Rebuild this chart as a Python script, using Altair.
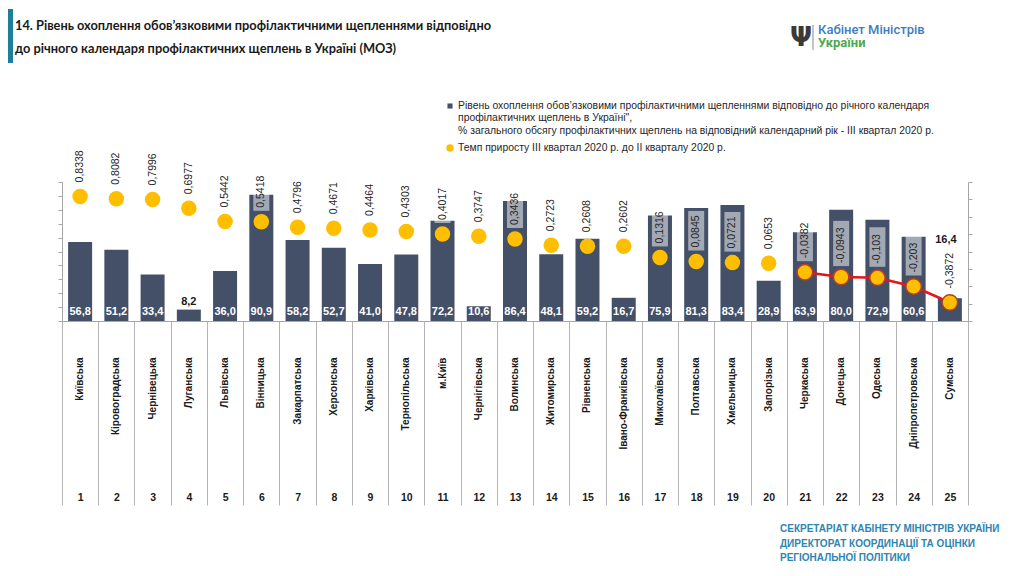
import json
import altair as alt
import pandas as pd

# ---------------- data ----------------
NAMES = ["Київська", "Кіровоградська", "Чернівецька", "Луганська", "Львівська",
         "Вінницька", "Закарпатська", "Херсонська", "Харківська", "Тернопільська",
         "м.Київ", "Чернігівська", "Волинська", "Житомирська", "Рівненська",
         "Івано-Франківська", "Миколаївська", "Полтавська", "Хмельницька", "Запорізька",
         "Черкаська", "Донецька", "Одеська", "Дніпропетровська", "Сумська"]
RANKS = list(range(1, 26))
COVERAGE = [56.8, 51.2, 33.4, 8.2, 36.0, 90.9, 58.2, 52.7, 41.0, 47.8,
            72.2, 10.6, 86.4, 48.1, 59.2, 16.7, 75.9, 81.3, 83.4, 28.9,
            63.9, 80.0, 72.9, 60.6, 16.4]
GROWTH = [0.8338, 0.8082, 0.7996, 0.6977, 0.5442, 0.5418, 0.4796, 0.4671, 0.4464, 0.4303,
          0.4017, 0.3747, 0.3436, 0.2723, 0.2608, 0.2602, 0.1316, 0.0845, 0.0721, 0.0653,
          -0.0382, -0.0943, -0.103, -0.203, -0.3872]
LINE_FROM_RANK = 21
LABEL_ABOVE_SMALL = ["Луганська"]
LABEL_ABOVE_HIGH = ["Сумська"]

TITLE_LINES = ["14. Рівень охоплення обов’язковими профілактичними щепленнями відповідно",
               "до річного календаря профілактичних щеплень в Україні (МОЗ)"]
LOGO_TOP = "Кабінет Міністрів"
LOGO_BOTTOM = "України"
LEGEND_BAR_LINES = ["Рівень охоплення обов’язковими профілактичними щепленнями відповідно до річного календаря",
                    "профілактичних щеплень в Україні\",",
                    "% загального обсягу профілактичних щеплень на відповідний календарний рік  - III квартал 2020 р."]
LEGEND_DOT = "Темп приросту III квартал 2020 р. до II кварталу 2020 р."
FOOTER_LINES = ["СЕКРЕТАРІАТ КАБІНЕТУ МІНІСТРІВ УКРАЇНИ",
                "ДИРЕКТОРАТ КООРДИНАЦІЇ ТА ОЦІНКИ",
                "РЕГІОНАЛЬНОЇ ПОЛІТИКИ"]

# ---------------- style ----------------
BAR = "#445068"
YELLOW = "#FFBE00"
RED = "#E3161B"
DOT_STROKE = "#B5402A"
AXIS = "#A6A6A6"
TXT = "#1A1A1A"
TEAL = "#1F7F98"
FONT = "Liberation Sans"
TITLE_FONT = "Lato"

W, H = 906, 139
Y_LEFT = [0, 100]
Y_RIGHT = [-0.6, 1.0]
PX_PER_UNIT = H / (Y_RIGHT[1] - Y_RIGHT[0])

df = pd.DataFrame({"name": NAMES, "rank": RANKS, "cov": COVERAGE, "g": GROWTH})
base = alt.Chart(df)

names_js = json.dumps(NAMES, ensure_ascii=False)

names_axis = alt.Axis(title=None, orient="bottom", labelAngle=270, labelAlign="right",
                      labelBaseline="middle", labelPadding=36, ticks=False, tickSize=0,
                      domain=False, grid=False, labelFont=FONT, labelFontSize=10,
                      labelFontWeight="bold", labelColor=TXT, labelLimit=300,
                      labelOverlap=False)
nums_axis = alt.Axis(title=None, orient="bottom", labelAngle=0,
                     labelExpr=f"indexof({names_js}, datum.value) >= 0 ? indexof({names_js}, datum.value) + 1 : ''",
                     ticks=True, tickBand="extent", tickSize=184, tickColor="#B4B4B4",
                     tickWidth=1, domain=True, domainColor=AXIS, grid=False,
                     labelPadding=-13, labelFont=FONT, labelFontSize=10.5,
                     labelFontWeight="bold", labelColor=TXT, labelOverlap=False)

x_scale = alt.Scale(paddingInner=0, paddingOuter=0)
x_names = alt.X("name:N", sort=NAMES, scale=x_scale, axis=names_axis)
x_nums = alt.X("name:N", sort=NAMES, scale=x_scale, axis=nums_axis)
x_plain = alt.X("name:N", sort=NAMES, scale=x_scale, axis=None)

left_scale = alt.Scale(domain=Y_LEFT, nice=False)
right_scale = alt.Scale(domain=Y_RIGHT, nice=False, zero=False)

left_axis = alt.Axis(title=None, orient="left", values=list(range(0, 101, 10)), labels=False,
                     ticks=True, tickSize=4, tickColor=AXIS, domainColor=AXIS, grid=False)
right_axis = alt.Axis(title=None, orient="right",
                      values=[round(-0.6 + 0.2 * i, 1) for i in range(9)], labels=False,
                      ticks=True, tickSize=4, tickColor=AXIS, domainColor=AXIS, grid=False)

bar_lab = "replace(format(datum.cov, '.1f'), '.', ',')"
g_lab = "replace(toString(datum.g), '.', ',')"

# ---- bars (left scale) ----
bars = base.mark_bar(width=24, color=BAR).encode(
    x=x_names, y=alt.Y("cov:Q", scale=left_scale, axis=left_axis))

inside_labels = base.transform_filter(
    f"indexof({json.dumps(LABEL_ABOVE_SMALL + LABEL_ABOVE_HIGH, ensure_ascii=False)}, datum.name) < 0"
).transform_calculate(zero="0", lab=bar_lab).mark_text(
    dy=-9.5, color="white", font=FONT, fontSize=11, fontWeight="bold", baseline="middle"
).encode(x=x_plain, y=alt.Y("zero:Q", scale=left_scale, axis=None), text="lab:N")

above_small = base.transform_filter(
    f"indexof({json.dumps(LABEL_ABOVE_SMALL, ensure_ascii=False)}, datum.name) >= 0"
).transform_calculate(lab=bar_lab).mark_text(
    dy=-8, color=TXT, font=FONT, fontSize=11, fontWeight="bold", baseline="middle"
).encode(x=x_plain, y=alt.Y("cov:Q", scale=left_scale, axis=None), text="lab:N")

above_high = base.transform_filter(
    f"indexof({json.dumps(LABEL_ABOVE_HIGH, ensure_ascii=False)}, datum.name) >= 0"
).transform_calculate(lab=bar_lab).mark_text(
    dy=-58, dx=-4, color=TXT, font=FONT, fontSize=11, fontWeight="bold", baseline="middle"
).encode(x=x_plain, y=alt.Y("cov:Q", scale=left_scale, axis=None), text="lab:N")

# ---- growth (right scale) ----
boxes = base.transform_calculate(glab=g_lab).transform_calculate(
    lo=f"datum.g + 11 / {PX_PER_UNIT}",
    hi=f"datum.g + (17 + length(datum.glab) * 5.6) / {PX_PER_UNIT}",
).mark_bar(width=16, color="white", opacity=0.5).encode(
    x=x_plain, y=alt.Y("lo:Q", scale=right_scale, axis=None), y2="hi:Q")

line = base.transform_filter(f"datum.rank >= {LINE_FROM_RANK}").mark_line(
    color=RED, strokeWidth=2.5).encode(
    x=x_plain, y=alt.Y("g:Q", scale=right_scale, axis=None))

points = base.mark_circle(size=240, color=YELLOW, opacity=1, stroke=DOT_STROKE).encode(
    x=x_nums, y=alt.Y("g:Q", scale=right_scale, axis=right_axis),
    strokeWidth=alt.condition(f"datum.rank >= {LINE_FROM_RANK}", alt.value(1.5), alt.value(0)))

point_labels = base.transform_calculate(glab=g_lab).mark_text(
    angle=270, align="left", baseline="middle", dx=14, font=FONT, fontSize=10.5, color="#262626"
).encode(x=x_plain, y=alt.Y("g:Q", scale=right_scale, axis=None), text="glab:N")

# ---- annotations (page layout) ----
one = pd.DataFrame({"k": [0]})
ox, oy = 62, 182  # plot origin on page

teal = alt.Chart(one).mark_rect(color=TEAL).encode(
    x=alt.value(8 - ox), x2=alt.value(13 - ox), y=alt.value(9 - oy), y2=alt.value(63 - oy))
title = alt.Chart(one).mark_text(
    text=TITLE_LINES, lineHeight=23, align="left", baseline="middle", font=TITLE_FONT,
    fontSize=12.8, fontWeight="bold", color=TXT
).encode(x=alt.value(15 - ox), y=alt.value(26 - oy))

trident = alt.Chart(one).mark_text(
    text="Ψ", font="DejaVu Sans", fontSize=26, fontWeight="bold", color="#3A3A3A",
    align="center", baseline="middle").encode(x=alt.value(801 - ox), y=alt.value(38 - oy))
logo_rule = alt.Chart(one).mark_rule(color="#8A8A8A", strokeWidth=1).encode(
    x=alt.value(813 - ox), y=alt.value(25 - oy), y2=alt.value(50 - oy))
logo1 = alt.Chart(one).mark_text(
    text=LOGO_TOP, font="Roboto", fontSize=13, fontWeight=500, color="#3C7EBF",
    align="left", baseline="middle").encode(x=alt.value(818 - ox), y=alt.value(30 - oy))
logo2 = alt.Chart(one).mark_text(
    text=LOGO_BOTTOM, font="Roboto", fontSize=13, fontWeight="bold", color="#4FA84F",
    align="left", baseline="middle").encode(x=alt.value(818 - ox), y=alt.value(43 - oy))

leg_sq = alt.Chart(one).mark_square(size=26, color=BAR, opacity=1).encode(
    x=alt.value(450 - ox), y=alt.value(106 - oy))
leg_txt1 = alt.Chart(one).mark_text(
    text=LEGEND_BAR_LINES, lineHeight=12.4, align="left", baseline="middle", font=FONT,
    fontSize=10.4, color="#262626").encode(x=alt.value(458 - ox), y=alt.value(106 - oy))
leg_dot = alt.Chart(one).mark_circle(size=55, color=YELLOW, opacity=1).encode(
    x=alt.value(450 - ox), y=alt.value(148 - oy))
leg_txt2 = alt.Chart(one).mark_text(
    text=LEGEND_DOT, align="left", baseline="middle", font=FONT, fontSize=10.4,
    color="#262626").encode(x=alt.value(458 - ox), y=alt.value(148 - oy))

footer = alt.Chart(one).mark_text(
    text=FOOTER_LINES, lineHeight=14.5, align="left", baseline="middle", font=FONT,
    fontSize=10, fontWeight="bold", color="#2E86B0").encode(
    x=alt.value(780 - ox), y=alt.value(529 - oy))

chart = alt.layer(
    bars, inside_labels, above_small, above_high,
    boxes, line, points, point_labels,
    teal, title, trident, logo_rule, logo1, logo2,
    leg_sq, leg_txt1, leg_dot, leg_txt2, footer
).resolve_scale(y="independent").resolve_axis(x="independent").properties(
    width=W, height=H,
    padding={"left": ox - 8, "top": oy - 8, "right": 1000 - (ox - 8) - W, "bottom": 556 - (oy - 8) - H},
    autosize=alt.AutoSizeParams(type="none"),
    background="white",
).configure_view(stroke=None)

chart.save("out.html", embed_options={"renderer": "svg", "actions": False})
